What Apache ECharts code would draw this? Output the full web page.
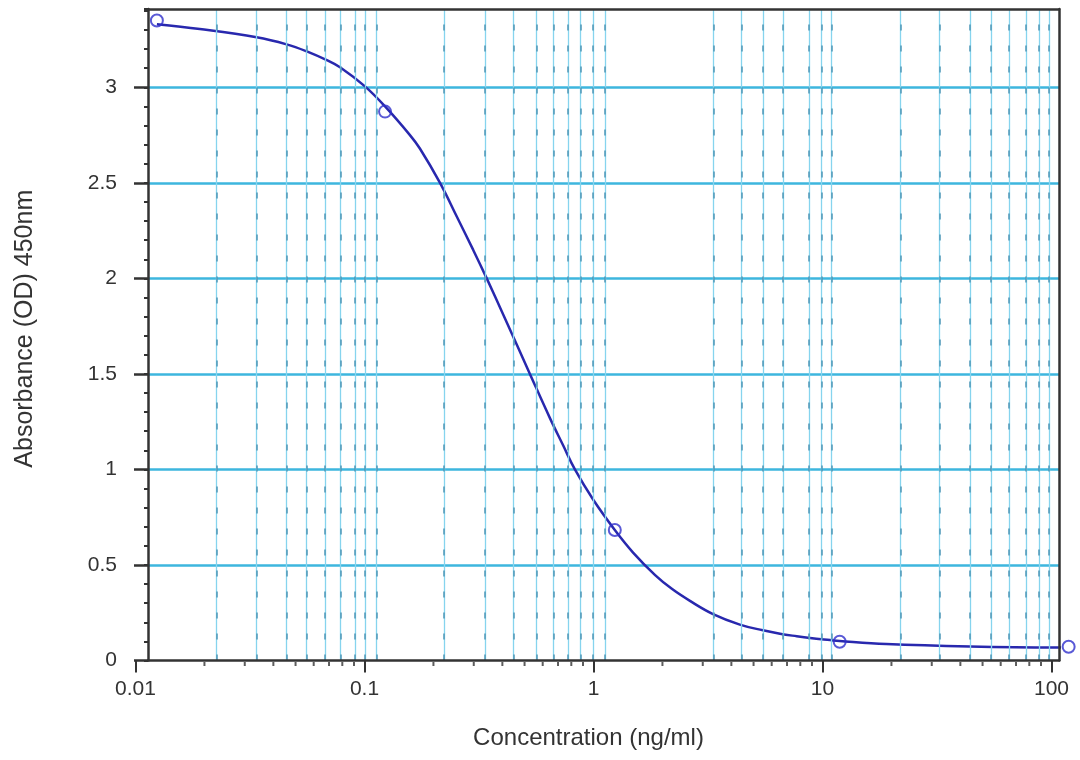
<!DOCTYPE html>
<html><head><meta charset="utf-8">
<script src="https://cdn.jsdelivr.net/npm/echarts@6/dist/echarts.min.js"></script>
<style>html,body{margin:0;padding:0;background:#fff}#c{width:1080px;height:760px}</style>
</head><body><div id="c"></div>
<script>
// Measured standards (concentration ng/ml, OD 450nm)
const pointConc = [0.0124, 0.123, 1.24, 11.9, 119];
const pointOD   = [3.35, 2.873, 0.683, 0.098, 0.072];

// Fitted curve
const curveConc = [0.0124, 0.0191, 0.0338, 0.0457, 0.056, 0.0685, 0.0782, 0.1005, 0.123, 0.158, 0.1746, 0.2138, 0.253, 0.2985, 0.342, 0.404, 0.528, 0.645, 0.738, 0.83, 1.0, 1.24, 1.49, 1.86, 2.2, 2.64, 3.33, 4.36, 5.5, 6.53, 7.73, 8.83, 10.8, 11.9, 19.0, 44, 104, 119];
const curveOD   = [3.33, 3.305, 3.262, 3.225, 3.188, 3.142, 3.105, 3.005, 2.90, 2.75, 2.68, 2.50, 2.324, 2.149, 2.0, 1.81, 1.50, 1.27, 1.125, 1.0, 0.84, 0.683, 0.565, 0.447, 0.375, 0.312, 0.243, 0.188, 0.158, 0.14, 0.127, 0.118, 0.107, 0.102, 0.086, 0.073, 0.068, 0.068];

// Axis ticks / grid
const yTickValues = [0, 0.5, 1, 1.5, 2, 2.5, 3];
const xMinorTicks = [0.02,0.03,0.04,0.05,0.06,0.07,0.08,0.09, 0.2,0.3,0.4,0.5,0.6,0.7,0.8,0.9, 2,3,4,5,6,7,8,9, 20,30,40,50,60,70,80,90];
const xGridLines = [0.0226,0.0338,0.0457,0.0559,0.0672,0.0787,0.0909,0.1005,0.113, 0.223,0.336,0.447,0.565,0.668,0.776,0.879,0.998,1.123, 3.34,4.44,5.51,6.74,8.76,9.92,10.97, 21.95,32.4,44.1,54.4,65.4,77.4,88.5,97.8];

const FONT = "'Liberation Sans', Arial, sans-serif";
const TXT = '#333';
const X0MIN = 0.01134, X0MAX = 108, YMAX = 3.41;

const chart = echarts.init(document.getElementById('c'));
const fmt = v => String(parseFloat(Number(v).toPrecision(6)));
const frameAxisX = (pos) => ({gridIndex:0, type:'log', logBase:10, min:X0MIN, max:X0MAX, position:pos, z:10,
  axisLine:{show:true, onZero:false, lineStyle:{color:'#333', width:2.5}}, axisTick:{show:false}, axisLabel:{show:false}, splitLine:{show:false}});
const frameAxisY = (pos) => ({gridIndex:0, type:'value', min:0, max:YMAX, position:pos, z:10,
  axisLine:{show:true, onZero:false, lineStyle:{color:'#333', width:2.5}}, axisTick:{show:false}, axisLabel:{show:false}, splitLine:{show:false}});
const gridMark = (style) => ({silent:true, symbol:'none', precision:8, label:{show:false}, animation:false,
  lineStyle:style, emphasis:{disabled:true}, data:xGridLines.map(v => ({xAxis:v}))});

const option = {
  animation:false,
  backgroundColor:'#fff',
  grid:[
    {left:148, right:21, top:9, bottom:99.5},
    {left:135.5, right:28.5, top:9, bottom:99.5}
  ],
  xAxis:[
    frameAxisX('bottom'),
    frameAxisX('top'),
    {gridIndex:1, type:'log', logBase:10, min:0.01, max:100, position:'bottom',
      axisLine:{show:false}, axisTick:{show:true, length:12, lineStyle:{color:'#333', width:2}},
      axisLabel:{margin:18, fontSize:21, color:TXT, fontFamily:FONT, formatter:fmt},
      splitLine:{show:false},
      name:'Concentration (ng/ml)', nameLocation:'middle', nameGap:66,
      nameTextStyle:{fontSize:24, color:TXT, fontFamily:FONT, padding:[0,10,0,0]}}
  ],
  yAxis:[
    {gridIndex:0, type:'value', min:0, max:YMAX, interval:0.5, position:'left',
      axisLine:{show:false},
      axisTick:{show:true, length:14, customValues:yTickValues, lineStyle:{color:'#333', width:2.5}},
      axisLabel:{margin:31, fontSize:21, color:TXT, fontFamily:FONT, customValues:yTickValues},
      splitLine:{show:true, showMinLine:false, lineStyle:{color:'#3db6de', width:2.5}},
      name:'Absorbance (OD) 450nm', nameLocation:'middle', nameGap:110, nameRotate:90,
      nameTextStyle:{fontSize:25, color:TXT, fontFamily:FONT, padding:[0,0,0,12]}},
    {gridIndex:0, type:'value', min:0, max:YMAX, interval:0.1, position:'left',
      axisLine:{show:false}, axisTick:{show:true, length:4, lineStyle:{color:'#333', width:2}},
      axisLabel:{show:false}, splitLine:{show:false}},
    {gridIndex:1, type:'value', min:0, max:YMAX, show:false},
    frameAxisY('left'),
    frameAxisY('right')
  ],
  series:[
    {type:'line', xAxisIndex:0, yAxisIndex:0, z:-1, data:[], silent:true, showSymbol:false,
      markLine:gridMark({color:'#86d4ee', width:1.3, type:'solid'})},
    {type:'line', xAxisIndex:0, yAxisIndex:0, z:-1, data:[], silent:true, showSymbol:false,
      markLine:gridMark({color:'#4f97b6', width:1.5, type:[6,15]})},
    {type:'scatter', xAxisIndex:2, yAxisIndex:2, clip:false, silent:true,
      symbol:'rect', symbolSize:[2,4], symbolOffset:[0,3.5],
      itemStyle:{color:'#333'},
      data:xMinorTicks.map(v => [v, 0])},
    {type:'line', xAxisIndex:0, yAxisIndex:0, z:3, clip:false, smooth:0.4, showSymbol:false, silent:true,
      lineStyle:{color:'#2828ae', width:2.5},
      data:curveConc.map((c,i) => [c, curveOD[i]])},
    {type:'scatter', xAxisIndex:0, yAxisIndex:0, z:4, clip:false, silent:true,
      symbol:'circle', symbolSize:12,
      itemStyle:{color:'rgba(255,255,255,0)', borderColor:'#3030cc', borderWidth:2},
      data:pointConc.map((c,i) => [c, pointOD[i]])}
  ]
};
chart.setOption(option);
</script></body></html>
